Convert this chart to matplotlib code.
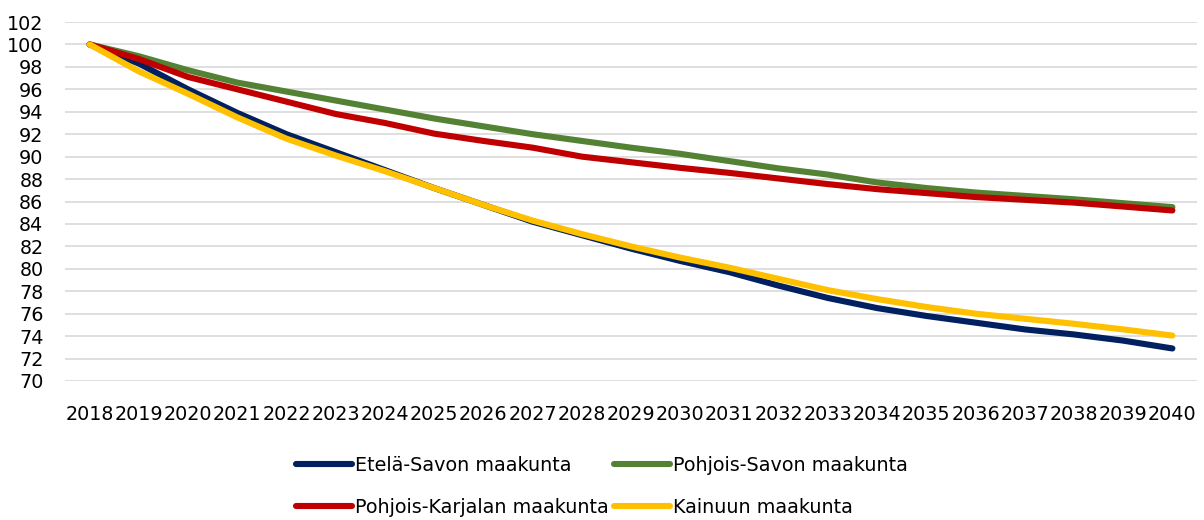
import matplotlib
matplotlib.use("Agg")
import matplotlib.pyplot as plt

years = list(range(2018, 2041))
year_labels = [str(y) for y in years]

etela_savo = [100, 98.3, 96.0, 93.9, 92.0, 90.4, 88.8, 87.2, 85.7, 84.2, 83.0, 81.8,
              80.7, 79.7, 78.5, 77.4, 76.5, 75.8, 75.2, 74.6, 74.15, 73.6, 72.9]
pohjois_savo = [100, 98.95, 97.7, 96.6, 95.8, 95.0, 94.2, 93.4, 92.7, 92.0, 91.4, 90.8,
                90.25, 89.6, 88.95, 88.4, 87.7, 87.2, 86.8, 86.5, 86.2, 85.85, 85.5]
pohjois_karjala = [100, 98.7, 97.1, 96.0, 94.9, 93.8, 93.0, 92.05, 91.4, 90.8, 90.0, 89.5,
                   89.0, 88.55, 88.05, 87.55, 87.1, 86.75, 86.4, 86.15, 85.9, 85.55, 85.2]
kainuu = [100, 97.6, 95.6, 93.5, 91.6, 90.1, 88.7, 87.2, 85.7, 84.3, 83.1, 82.0,
          81.0, 80.1, 79.1, 78.1, 77.3, 76.6, 76.0, 75.55, 75.1, 74.6, 74.05]

series_names = ["Etelä-Savon maakunta", "Pohjois-Savon maakunta",
                "Pohjois-Karjalan maakunta", "Kainuun maakunta"]
series_values = [etela_savo, pohjois_savo, pohjois_karjala, kainuu]
colors = ["#002060", "#548235", "#C00000", "#FFC000"]

y_ticks = list(range(70, 103, 2))

plt.rcParams['font.family'] = ['DejaVu Sans']

fig = plt.figure(figsize=(12.04, 5.2), dpi=100)
ax = fig.add_axes([65/1204, (520-381)/520, (1197-65)/1204, (381-22)/520])

handles = []
for name, vals, c in zip(series_names, series_values, colors):
    h, = ax.plot(years, vals, color=c, lw=4.4, solid_capstyle='round',
                 solid_joinstyle='round', label=name, zorder=3)
    handles.append(h)

ax.set_xlim(2017.5, 2040.5)
ax.set_ylim(70, 102)
ax.set_yticks(y_ticks)
ax.set_yticklabels([str(t) for t in y_ticks])
ax.set_xticks(years)
ax.set_xticklabels(year_labels)
ax.grid(axis='y', color='#D9D9D9', lw=1.2, zorder=0)
ax.grid(axis='x', visible=False)
for s in ax.spines.values():
    s.set_visible(False)
ax.tick_params(axis='y', length=0, pad=15.5, labelsize=13.8, labelcolor='black')
ax.tick_params(axis='x', length=0, pad=17, labelsize=13.8, labelcolor='black')

# matplotlib fills legend column by column; reorder so rows read as in the original
order = [0, 2, 1, 3]
fig.legend(handles=[handles[i] for i in order],
           labels=[series_names[i] for i in order], loc='center',
           bbox_to_anchor=(0.5, (520-486.5)/520), ncol=2, frameon=False,
           fontsize=13.8, handlelength=2.9, handletextpad=0.15,
           columnspacing=0.3, labelspacing=1.2)

fig.savefig("out.png", dpi=100, facecolor='white')
